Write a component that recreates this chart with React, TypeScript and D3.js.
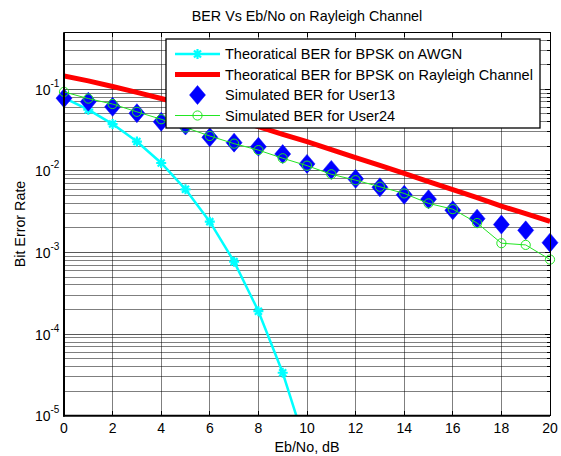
import React from "react";
import * as d3 from "d3";

const ebno = [0, 1, 2, 3, 4, 5, 6, 7, 8, 9, 10, 11, 12, 13, 14, 15, 16, 17, 18, 19, 20];
const awgnX = [0, 1, 2, 3, 4, 5, 6, 7, 8, 9, 10];
const awgnBer = [0.0786, 0.0563, 0.0375, 0.0229, 0.0125, 0.00595, 0.00239, 0.000773, 0.000191, 0.0000336, 0.00000387];
const rayleighBer = [0.146, 0.127, 0.1085, 0.0919, 0.0771, 0.064, 0.0527, 0.043, 0.0349, 0.0281, 0.0228, 0.0183, 0.0146, 0.0117, 0.0093, 0.0074, 0.0059, 0.0047, 0.0037, 0.003, 0.0024];
const user13 = [0.078, 0.0705, 0.061, 0.051, 0.040, 0.036, 0.0258, 0.0222, 0.0198, 0.0161, 0.0122, 0.0103, 0.008, 0.0063, 0.0051, 0.0045, 0.0033, 0.0026, 0.0022, 0.00187, 0.00132];
const user24 = [0.093, 0.077, 0.066, 0.053, 0.043, 0.034, 0.0268, 0.0216, 0.018, 0.0143, 0.0116, 0.0091, 0.0077, 0.0064, 0.0053, 0.004, 0.0034, 0.0023, 0.0013, 0.00124, 0.00082];
const xTicks = [0, 2, 4, 6, 8, 10, 12, 14, 16, 18, 20];
const yDecades = [-5, -4, -3, -2, -1];
const legendLabels = [
  "Theoratical BER for BPSK on AWGN",
  "Theoratical BER for BPSK on Rayleigh Channel",
  "Simulated BER for User13",
  "Simulated BER for User24",
];

const W = 561, H = 456;
const L = 64, R = 550, T = 32.3, B = 415.7;
const FONT = "'Liberation Sans', Arial, Helvetica, sans-serif";

export default function App() {
  const x = d3.scaleLinear().domain([0, 20]).range([L, R]);
  const y = d3.scaleLog().domain([1e-5, 0.5]).range([B, T]);

  const minor: number[] = [];
  for (let e = -5; e <= -1; e++) {
    for (let m = 2; m <= 9; m++) {
      const v = m * Math.pow(10, e);
      if (v <= 0.5) minor.push(v);
    }
  }

  const line = d3.line<[number, number]>().x((d) => x(d[0])).y((d) => y(d[1]));
  const awgnPts: [number, number][] = awgnX.map((k, i) => [k, awgnBer[i]]);
  const rayPts: [number, number][] = ebno.map((k, i) => [k, rayleighBer[i]]);
  const u24Pts: [number, number][] = ebno.map((k, i) => [k, user24[i]]);

  const diamond = (cx: number, cy: number, hw = 8, hh = 9.5) =>
    `M${cx},${cy - hh}L${cx + hw},${cy}L${cx},${cy + hh}L${cx - hw},${cy}Z`;
  const star = (cx: number, cy: number, s = 5) => {
    const a = s * 0.7;
    return `M${cx - s},${cy}L${cx + s},${cy}M${cx},${cy - s}L${cx},${cy + s}M${cx - a},${cy - a}L${cx + a},${cy + a}M${cx - a},${cy + a}L${cx + a},${cy - a}`;
  };

  const cyan = "#00ffff";
  const green = "#22e622";
  const blue = "#0000ff";
  const red = "#ff0000";

  const legX = 166, legY = 39, legW = 374, legH = 89;
  const rowY = [54, 74.5, 95, 115.5];

  return (
    <svg width={W} height={H} style={{ position: "absolute", left: 0, top: 0, background: "#fff" }} fontFamily={FONT}>
      <defs>
        <clipPath id="plotclip">
          <rect x={L} y={T} width={R - L} height={B - T} />
        </clipPath>
      </defs>
      <rect x={0} y={0} width={W} height={H} fill="#fff" />
      <rect x={L} y={T} width={R - L} height={B - T} fill="#fff" />
      {/* grid */}
      <g stroke="#000" strokeOpacity={0.5} strokeWidth={1} shapeRendering="crispEdges">
        {minor.map((v, i) => (
          <line key={"mn" + i} x1={L} x2={R} y1={y(v)} y2={y(v)} />
        ))}
        {yDecades.map((e) => (
          <line key={"mj" + e} x1={L} x2={R} y1={y(Math.pow(10, e))} y2={y(Math.pow(10, e))} strokeOpacity={0.65} />
        ))}
        {xTicks.map((t) => (
          <line key={"vx" + t} x1={x(t)} x2={x(t)} y1={T} y2={B} />
        ))}
      </g>
      {/* ticks on top and right */}
      <g stroke="#000" strokeWidth={1} shapeRendering="crispEdges">
        {xTicks.map((t) => (
          <line key={"tt" + t} x1={x(t)} x2={x(t)} y1={T} y2={T + 5} />
        ))}
        {xTicks.map((t) => (
          <line key={"tb" + t} x1={x(t)} x2={x(t)} y1={B} y2={B - 5} />
        ))}
        {minor.map((v, i) => (
          <line key={"rm" + i} x1={R} x2={R - 3} y1={y(v)} y2={y(v)} />
        ))}
        {yDecades.map((e) => (
          <line key={"rj" + e} x1={R} x2={R - 5} y1={y(Math.pow(10, e))} y2={y(Math.pow(10, e))} />
        ))}
      </g>
      {/* data */}
      <g clipPath="url(#plotclip)">
        <path d={line(awgnPts) || ""} fill="none" stroke={cyan} strokeWidth={2.5} />
        {awgnPts.map((p, i) => (
          <path key={"as" + i} d={star(x(p[0]), y(p[1]))} stroke={cyan} strokeWidth={2.2} fill="none" />
        ))}
        <path d={line(rayPts) || ""} fill="none" stroke={red} strokeWidth={5} />
      </g>
      {ebno.map((k, i) => (
        <path key={"d" + i} d={diamond(x(k), y(user13[i]))} fill={blue} stroke={blue} strokeWidth={0.5} />
      ))}
      <path d={line(u24Pts) || ""} fill="none" stroke={green} strokeWidth={1} />
      {u24Pts.map((p, i) => (
        <circle key={"c" + i} cx={x(p[0])} cy={y(p[1])} r={4.6} fill="none" stroke={green} strokeWidth={1} />
      ))}
      {/* axes frame */}
      <rect x={L} y={T} width={R - L} height={B - T} fill="none" stroke="#000" strokeWidth={1} shapeRendering="crispEdges" />
      <line x1={L} x2={L} y1={T} y2={B + 0.8} stroke="#000" strokeWidth={2} />
      <line x1={L - 1} x2={R} y1={B} y2={B} stroke="#000" strokeWidth={2} />
      {/* x tick labels */}
      <g fontSize={14} textAnchor="middle" fill="#000">
        {xTicks.map((t) => (
          <text key={"xl" + t} x={x(t)} y={433}>{t}</text>
        ))}
      </g>
      {/* y tick labels */}
      <g fill="#000">
        {yDecades.map((e) => (
          <text key={"yl" + e} x={50.5} y={y(Math.pow(10, e)) + 5.5} fontSize={14} textAnchor="end">
            10
          </text>
        ))}
        {yDecades.map((e) => (
          <text key={"ys" + e} x={50.5} y={y(Math.pow(10, e)) - 2.5} fontSize={10} textAnchor="start">
            {e}
          </text>
        ))}
      </g>
      {/* labels */}
      <text x={(L + R) / 2} y={20.5} fontSize={14.3} textAnchor="middle" fill="#000">BER Vs Eb/No on Rayleigh Channel</text>
      <text x={(L + R) / 2} y={452} fontSize={14.3} textAnchor="middle" fill="#000">Eb/No, dB</text>
      <text transform={`translate(25,${(T + B) / 2}) rotate(-90)`} fontSize={14.3} textAnchor="middle" fill="#000">Bit Error Rate</text>
      {/* legend */}
      <rect x={legX} y={legY} width={legW} height={legH} fill="#fff" stroke="#000" strokeWidth={1.3} />
      <g>
        <line x1={175} x2={220} y1={rowY[0]} y2={rowY[0]} stroke={cyan} strokeWidth={2.5} />
        <path d={star(197.5, rowY[0])} stroke={cyan} strokeWidth={2.2} fill="none" />
        <line x1={175} x2={220} y1={rowY[1]} y2={rowY[1]} stroke={red} strokeWidth={5} />
        <path d={diamond(197.5, rowY[2])} fill={blue} stroke={blue} strokeWidth={0.5} />
        <line x1={175} x2={220} y1={rowY[3]} y2={rowY[3]} stroke={green} strokeWidth={1} />
        <circle cx={197.5} cy={rowY[3]} r={4.6} fill="none" stroke={green} strokeWidth={1} />
        {legendLabels.map((s, i) => (
          <text key={"lg" + i} x={225} y={rowY[i] + 5} fontSize={14.5} fill="#000">{s}</text>
        ))}
      </g>
    </svg>
  );
}
